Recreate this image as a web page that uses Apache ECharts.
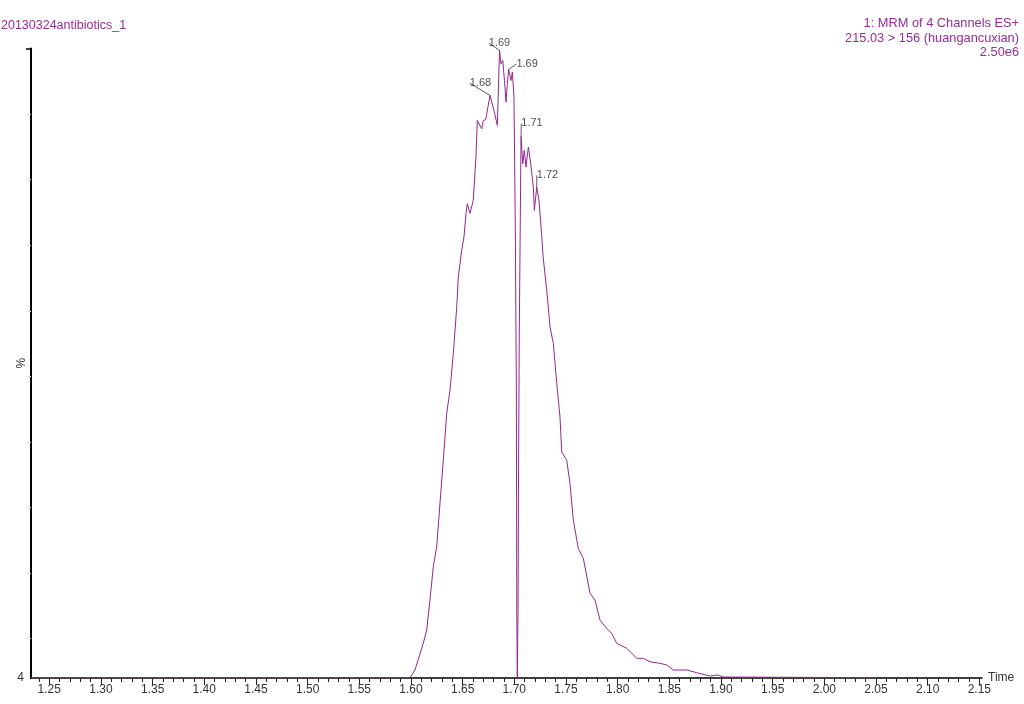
<!DOCTYPE html>
<html>
<head>
<meta charset="utf-8">
<script src="https://cdn.jsdelivr.net/npm/echarts@6/dist/echarts.min.js"></script>
<style>
html,body{margin:0;padding:0;background:#fff;}
#chart{width:1024px;height:704px;}
</style>
</head>
<body>
<div id="chart"></div>
<script>
// ---- data (retention time in min, intensity in % of 2.50e6) ----
const times = [
  1.2323, 1.5991, 1.6039, 1.6119, 1.6152, 1.6184, 1.6216, 1.6249, 1.6281, 1.6313,
  1.6346, 1.6378, 1.6410, 1.6443, 1.6458, 1.6491, 1.6513, 1.6533, 1.6545, 1.6571,
  1.6603, 1.6629, 1.6642, 1.6661, 1.6685, 1.6700, 1.6723, 1.6765, 1.6803, 1.6836,
  1.6857, 1.6871, 1.6888, 1.6905, 1.6920, 1.6932, 1.6945, 1.6968, 1.6981, 1.6997,
  1.7010, 1.7020, 1.7024, 1.7029, 1.7036, 1.7041, 1.7048, 1.7065, 1.7082, 1.7097,
  1.7113, 1.7136, 1.7159, 1.7184, 1.7194, 1.7217, 1.7239, 1.7265, 1.7279, 1.7314,
  1.7346, 1.7378, 1.7411, 1.7442, 1.7459, 1.7507, 1.7539, 1.7571, 1.7619, 1.7668,
  1.7733, 1.7781, 1.7829, 1.7894, 1.7943, 1.7991, 1.8088, 1.8185, 1.8249, 1.8313,
  1.8410, 1.8475, 1.8539, 1.8669, 1.8765, 1.8894, 1.8971, 1.9020, 2.0510
];
const intensity = [
  4.05, 4.05, 5.22, 9.29, 11.31, 15.89, 20.96, 24.01, 30.67, 37.22,
  44.38, 47.89, 53.52, 60.58, 65.15, 69.22, 71.25, 74.86, 76.34, 74.86,
  76.84, 83.44, 89.03, 89.29, 87.76, 89.03, 89.14, 92.84, 90.55, 88.27,
  99.70, 97.67, 98.17, 95.12, 91.82, 94.50, 96.80, 95.12, 96.39, 92.58,
  72.27, 47.89, 14.36, 4.05, 14.36, 35.24, 56.01, 86.59, 82.43, 84.46,
  81.91, 84.96, 82.43, 78.87, 75.31, 78.87, 76.84, 71.50, 68.20, 63.12,
  57.53, 55.00, 48.91, 43.82, 38.48, 37.22, 33.67, 28.08, 23.76, 22.24,
  16.91, 15.89, 12.84, 11.57, 10.81, 9.29, 8.53, 7.00, 7.00, 6.48,
  6.24, 5.98, 5.22, 5.22, 4.81, 4.30, 4.46, 4.15, 4.05
];
const peakTimes = [1.6765, 1.6857, 1.6945, 1.7065, 1.7217];
const xTickLabels = [1.25,1.30,1.35,1.40,1.45,1.50,1.55,1.60,1.65,1.70,1.75,1.80,1.85,1.90,1.95,2.00,2.05,2.10,2.15];
const xMinorTicks = [1.24,1.26,1.27,1.28,1.29,1.31,1.32,1.33,1.34,1.36,1.37,1.38,1.39,1.41,1.42,1.43,1.44,1.46,1.47,1.48,1.49,
  1.51,1.52,1.53,1.54,1.56,1.57,1.58,1.59,1.61,1.62,1.63,1.64,1.66,1.67,1.68,1.69,1.71,1.72,1.73,1.74,1.76,1.77,1.78,1.79,
  1.81,1.82,1.83,1.84,1.86,1.87,1.88,1.89,1.91,1.92,1.93,1.94,1.96,1.97,1.98,1.99,2.01,2.02,2.03,2.04,2.06,2.07,2.08,2.09,
  2.11,2.12,2.13,2.14];
const yTicks = [10,20,30,40,50,60,70,80,90];
const yLabels = [4];
const titleLeft = '20130324antibiotics_1';
const titleRightLines = ['1: MRM of 4 Channels ES+', '215.03 > 156 (huangancuxian)', '2.50e6'];

// ---- build ----
const lineData = times.map((t, i) => [t, intensity[i]]);
const labelShift = [[-9.5, -4.8], [0, 0], [18.5, 2], [11, -5.5], [10.8, -4.2]];
const peakData = peakTimes.map(pt => {
  const i = times.indexOf(pt);
  return [times[i], intensity[i]];
});

const X_MIN = 1.2323, X_MAX = 2.1526;
const purple = '#93278f';
const titleColor = '#962d96';
const gridPos = {left: 31, right: 42, top: 48.5, bottom: 26, outerBoundsMode: 'none'};

const titles = [
  {text: titleLeft, left: 1, top: 19, padding: 0,
   textStyle: {color: titleColor, fontSize: 12.5, fontWeight: 'normal', fontFamily: 'Liberation Sans'}}
].concat(titleRightLines.map((s, k) => ({
  text: s, right: 5, top: 17 + k * 14.5, padding: 0,
  textStyle: {color: titleColor, fontSize: 12.8, fontWeight: 'normal', fontFamily: 'Liberation Sans'}
})));

const chart = echarts.init(document.getElementById('chart'), null, {renderer: 'canvas'});
chart.setOption({
  animation: false,
  backgroundColor: '#fff',
  textStyle: {fontFamily: 'Liberation Sans, Arial, sans-serif'},
  title: titles,
  grid: [Object.assign({}, gridPos), Object.assign({}, gridPos)],
  xAxis: [
    {type: 'value', gridIndex: 0, min: X_MIN, max: X_MAX,
     name: 'Time', nameLocation: 'end', nameGap: 6, nameMoveOverlap: false,
     nameTextStyle: {color: '#333', fontSize: 12, fontFamily: 'Liberation Sans'},
     axisLine: {onZero: false, lineStyle: {color: '#000', width: 1.5}},
     axisTick: {customValues: xTickLabels, length: 7, lineStyle: {color: '#222', width: 1}},
     axisLabel: {customValues: xTickLabels, formatter: v => v.toFixed(2), color: '#333', fontSize: 12, margin: 6, fontFamily: 'Liberation Sans'},
     splitLine: {show: false}},
    {type: 'value', gridIndex: 1, min: X_MIN, max: X_MAX,
     axisLine: {show: false},
     axisTick: {customValues: xMinorTicks, length: 4, lineStyle: {color: '#222', width: 1}},
     axisLabel: {show: false}, splitLine: {show: false}}
  ],
  yAxis: [
    {type: 'value', gridIndex: 0, min: 4, max: 100,
     name: '%', nameLocation: 'middle', nameRotate: 90, nameGap: 3, nameMoveOverlap: false,
     nameTextStyle: {color: '#333', fontSize: 12, fontFamily: 'Liberation Sans'},
     axisLine: {show: true, lineStyle: {color: '#000', width: 2}},
     axisTick: {show: true, customValues: yTicks, length: 5, lineStyle: {color: '#e4e4e4'}},
     axisLabel: {customValues: yLabels, color: '#333', fontSize: 12, margin: 7, fontFamily: 'Liberation Sans'},
     splitLine: {show: false}},
    {type: 'value', gridIndex: 1, min: 4, max: 100,
     axisLine: {show: false},
     axisTick: {show: true, customValues: [100], length: 5, lineStyle: {color: '#000', width: 1.5}},
     axisLabel: {show: false}, splitLine: {show: false}}
  ],
  series: [
    {type: 'line', xAxisIndex: 0, yAxisIndex: 0, data: lineData, showSymbol: false, symbol: 'none',
     lineStyle: {color: purple, width: 1}, z: 5},
    {type: 'scatter', xAxisIndex: 0, yAxisIndex: 0, symbolSize: 0, z: 6,
     data: peakData,
     label: {show: true, position: 'top', distance: 2, formatter: p => p.value[0].toFixed(2),
             color: '#222', fontSize: 11, fontFamily: 'Liberation Sans'},
     labelLine: {show: true, lineStyle: {color: '#333', width: 0.8}},
     labelLayout: p => ({dx: labelShift[p.dataIndex][0], dy: labelShift[p.dataIndex][1]})}
  ]
});
</script>
</body>
</html>
